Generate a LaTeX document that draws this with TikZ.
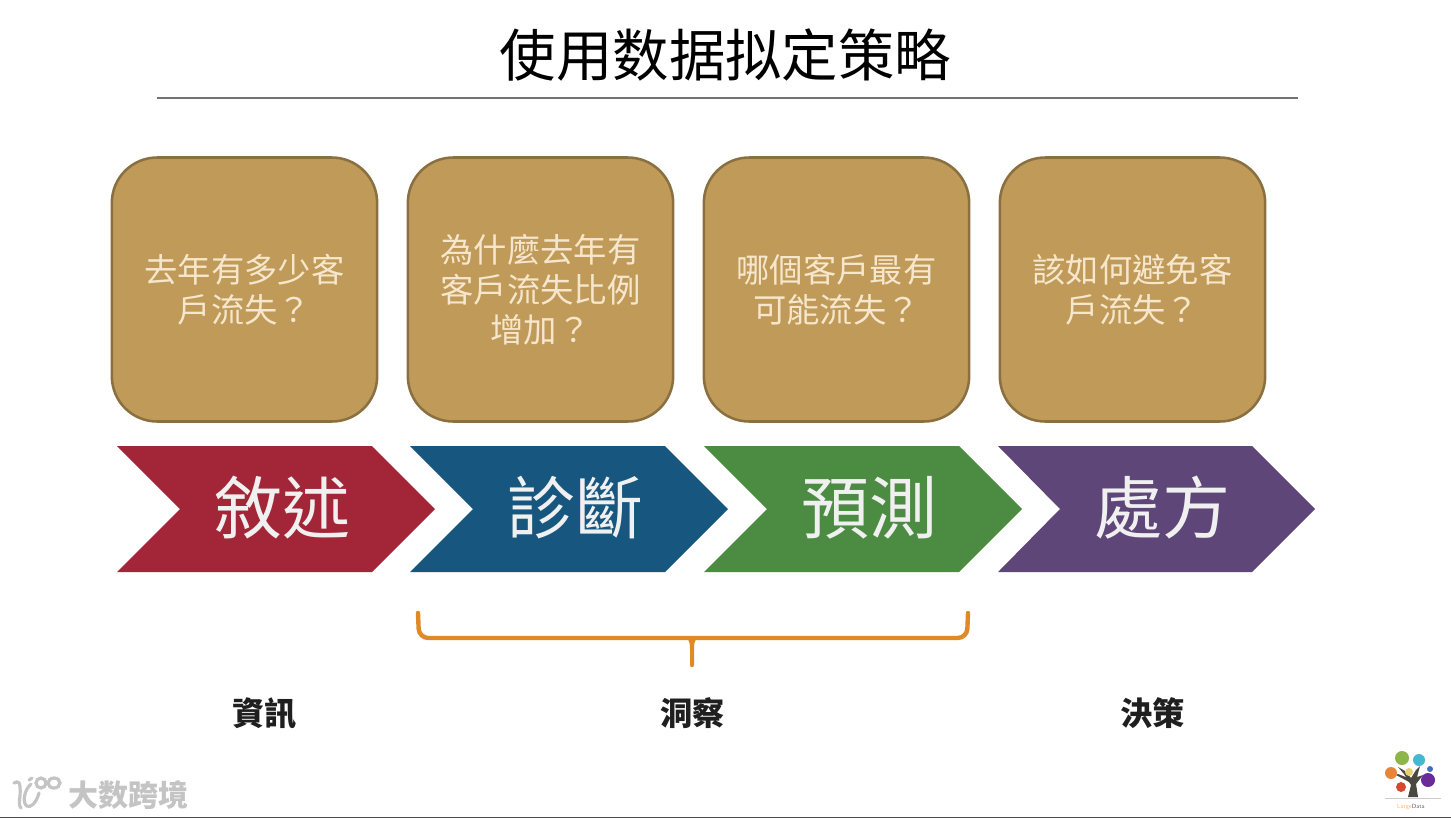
\documentclass[tikz,border=0pt]{standalone}
\usepackage{fontspec}
\newfontfamily\tcfont{Noto Sans CJK TC}
\newfontfamily\scfont{Noto Sans CJK SC}
\definecolor{boxfill}{HTML}{BF9A58}
\definecolor{boxline}{HTML}{8A7040}
\definecolor{boxtext}{HTML}{F6E6CC}
\definecolor{cred}{HTML}{A32638}
\definecolor{cblue}{HTML}{17577F}
\definecolor{cgreen}{HTML}{4C8C42}
\definecolor{cpurple}{HTML}{5F4679}
\definecolor{brace}{HTML}{E08A26}
\definecolor{wm}{HTML}{C4C4C4}
\definecolor{trunk}{HTML}{4A4640}
\definecolor{lgreen}{HTML}{8CB54A}
\definecolor{lcyan}{HTML}{45B8D0}
\definecolor{lblue}{HTML}{3F6FC0}
\definecolor{lpurple}{HTML}{6A2A9A}
\definecolor{lorange}{HTML}{E8853A}
\definecolor{lyellow}{HTML}{E8D070}
\definecolor{lred}{HTML}{D8482E}
\tikzset{
  qbox/.style={draw=boxline,fill=boxfill,line width=1.9pt,rounded corners=34pt,minimum width=199pt,minimum height=198pt,inner sep=0pt,text=boxtext,align=center,font=\tcfont\fontsize{25}{30}\selectfont},
  chevtext/.style={text=white!94!black,inner sep=0pt,font=\tcfont\fontsize{51}{60}\selectfont},
  lowtext/.style={text=black!88,inner sep=0pt,font=\tcfont\bfseries\fontsize{24.2}{28}\selectfont},
  wmline/.style={draw=wm,line width=2.4pt,line cap=round},
}
\begin{document}
\begin{tikzpicture}[x=0.75pt,y=-0.75pt]
\useasboundingbox (0,0) rectangle (1451,819);
\node[inner sep=0pt,text=black,font=\scfont\fontsize{42.3}{50}\selectfont] (title) at (725.5,55.5) {使用数据拟定策略};
\coordinate (ruleL) at (157,98); \coordinate (ruleR) at (1298,98);
\draw[black!55,line width=0.8pt] (ruleL) -- (ruleR);
\node[qbox] (q1) at (244.5,289.5) {去年有多少客\\戶流失？};
\node[qbox] (q2) at (540.5,289.5) {為什麼去年有\\客戶流失比例\\增加？};
\node[qbox] (q3) at (836.5,289.5) {哪個客戶最有\\可能流失？};
\node[qbox] (q4) at (1132.5,289.5) {該如何避免客\\戶流失？};
\fill[cred] (117,446) -- (372,446) -- (435,509) -- (372,572) -- (117,572) -- (180,509) -- cycle;
\fill[cblue] (410,446) -- (665,446) -- (728,509) -- (665,572) -- (410,572) -- (473,509) -- cycle;
\fill[cgreen] (704,446) -- (959,446) -- (1022,509) -- (959,572) -- (704,572) -- (767,509) -- cycle;
\fill[cpurple] (998,446) -- (1252,446) -- (1315,509) -- (1252,572) -- (998,572) -- (1060,509) -- cycle;
\node[chevtext] (c1) at (282,507.5) {敘述};
\node[chevtext] (c2) at (575,507.5) {診斷};
\node[chevtext] (c3) at (869,507.5) {預測};
\node[chevtext] (c4) at (1162,507.5) {處方};
\coordinate (bL) at (418,613); \coordinate (bR) at (968,613); \coordinate (bM) at (692,664);
\draw[brace,line width=3.3pt,line cap=round,rounded corners=7pt] (bL) -- (419,638) -- (967,638) -- (bR);
\fill[brace] (686,638) .. controls (690,640) and (690,645) .. (690,650) -- (690,665) .. controls (690,668) and (694,668) .. (694,665) -- (694,650) .. controls (694,645) and (694,640) .. (698,638) -- cycle;
\node[lowtext] (l1) at (264.5,713) {資訊};
\node[lowtext] (l2) at (692.5,713) {洞察};
\node[lowtext] (l3) at (1152.5,713) {決策};
% watermark
\draw[wmline] (14,783) .. controls (18,781) and (21,780) .. (20,796) .. controls (19,802) and (19,806) .. (21,808);
\draw[wmline] (39,793) .. controls (36,804) and (30,808) .. (27,806) .. controls (22,803) and (24,790) .. (31,784);
\draw[wmline] (29,780) -- (32,778);
\draw[wmline] (41,783) circle (5);
\draw[wmline] (54,783) circle (6 and 5);
\node[inner sep=0pt,text=wm,font=\scfont\bfseries\fontsize{22.5}{26}\selectfont] (wmtext) at (128,795) {大数跨境};
% logo
\fill[trunk] (1408,797) -- (1411,785) -- (1404,774) -- (1398,767) -- (1405,771) -- (1411,778) -- (1416,770) -- (1420,766) -- (1417,777) -- (1423,775) -- (1416,784) -- (1418,797) -- cycle;
\fill[trunk] (1411,783) -- (1396,775) -- (1398,774) -- (1411,779) -- cycle;
\fill[lgreen] (1402,758) circle (7);
\fill[lcyan] (1419,760) circle (6);
\fill[lblue] (1430,769) circle (3);
\fill[lpurple] (1428,780) circle (7);
\fill[lorange] (1391,773) circle (6);
\fill[lyellow] (1409,772) circle (4);
\fill[lred] (1401,787) circle (5);
\coordinate (gL) at (1385,798); \coordinate (gR) at (1441,798);
\draw[black!20,line width=0.6pt] (gL) -- (gR);
\node[inner sep=0pt,font=\fontsize{4.5}{5}\selectfont\sffamily,text=black!60] (logotext) at (1411,807) {\textcolor{orange!60}{Large}Data};
\coordinate (botL) at (0,817.5); \coordinate (botR) at (1451,817.5);
\draw[black!70,line width=1pt] (botL) -- (botR);
\end{tikzpicture}
\end{document}
